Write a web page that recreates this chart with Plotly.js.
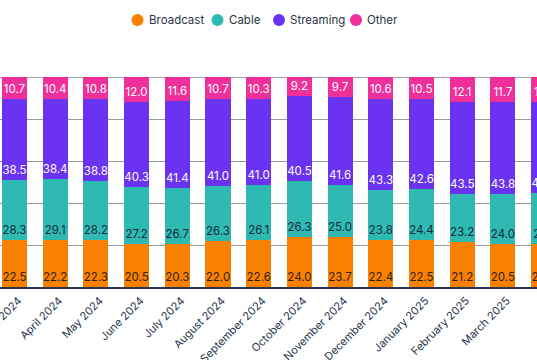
<!DOCTYPE html>
<html>
<head>
<meta charset="utf-8">
<script src="https://cdn.plot.ly/plotly-3.0.1.min.js"></script>
<style>
  html, body { margin: 0; padding: 0; background: #ffffff; overflow: hidden; }
  #chart { width: 537px; height: 360px; }
</style>
</head>
<body>
<div id="chart"></div>
<script>
const months = [
  "March 2024", "April 2024", "May 2024", "June 2024", "July 2024",
  "August 2024", "September 2024", "October 2024", "November 2024",
  "December 2024", "January 2025", "February 2025", "March 2025", "April 2025"
];
const broadcast = [22.5, 22.2, 22.3, 20.5, 20.3, 22.0, 22.6, 24.0, 23.7, 22.4, 22.5, 21.2, 20.5, 20.6];
const cable     = [28.3, 29.1, 28.2, 27.2, 26.7, 26.3, 26.1, 26.3, 25.0, 23.8, 24.4, 23.2, 24.0, 24.1];
const streaming = [38.5, 38.4, 38.8, 40.3, 41.4, 41.0, 41.0, 40.5, 41.6, 43.3, 42.6, 43.5, 43.8, 43.6];
const other     = [10.7, 10.4, 10.8, 12.0, 11.6, 10.7, 10.3, 9.2, 9.7, 10.6, 10.5, 12.1, 11.7, 11.7];

const seriesNames = ["Broadcast", "Cable", "Streaming", "Other"];
const seriesValues = [broadcast, cable, streaming, other];
const seriesColors = ["#FA8000", "#2EBAB3", "#6A33F2", "#F0309A"];
const labelColors = ["#2e2118", "#14283a", "#ffffff", "#ffffff"];

const traces = seriesNames.map((name, i) => ({
  type: "bar",
  name: name,
  x: months,
  y: seriesValues[i],
  marker: { color: seriesColors[i], line: { width: 0 } },
  text: seriesValues[i].map(v => v.toFixed(1)),
  textposition: "inside",
  insidetextanchor: "start",
  constraintext: "none",
  textangle: 0,
  insidetextfont: { family: "Inter, sans-serif", size: 11.5, color: labelColors[i] },
  hoverinfo: "skip"
}));

// Custom legend (circle + label), laid out in pixel space above the plot
const W = 537, plotTop = 77, plotBottom = 287;
const legendCentersPx = [137.5, 217.5, 279, 356];
const legendYpx = 20;
const py = (p) => (plotBottom - p) / (plotBottom - plotTop);
const shapes = [];
const annotations = [];
seriesNames.forEach((name, i) => {
  shapes.push({
    type: "circle", xref: "paper", yref: "paper",
    xsizemode: "pixel", ysizemode: "pixel",
    xanchor: legendCentersPx[i] / W, yanchor: py(legendYpx),
    x0: -6, x1: 6, y0: -6, y1: 6,
    fillcolor: seriesColors[i], line: { width: 0 }
  });
  annotations.push({
    xref: "paper", yref: "paper",
    x: (legendCentersPx[i] + 9) / W, y: py(legendYpx),
    xanchor: "left", yanchor: "middle",
    text: name, showarrow: false,
    font: { family: "Inter, sans-serif", size: 11.5, color: "#2b3445" }
  });
});
shapes.push({
  type: "line", xref: "paper", yref: "y",
  x0: 0, x1: 1, y0: 100, y1: 100,
  line: { color: "#808080", width: 1.5 },
  layer: "below"
});

const layout = {
  width: 537,
  height: 360,
  barmode: "stack",
  bargap: 0.385,
  margin: { l: 0, r: 0, t: 77, b: 73, pad: 0 },
  paper_bgcolor: "#ffffff",
  plot_bgcolor: "#ffffff",
  font: { family: "Inter, sans-serif", color: "#2a3550" },
  showlegend: false,
  xaxis: {
    type: "category",
    range: [-0.356, 12.838],
    tickangle: -45,
    tickfont: { family: "Inter, sans-serif", size: 11, color: "#2a3550" },
    ticklabelshift: 4,
    ticklabelstandoff: 1,
    showgrid: false,
    showline: true,
    linecolor: "#2a3550",
    linewidth: 2,
    ticks: "",
    fixedrange: true
  },
  yaxis: {
    range: [0, 100],
    dtick: 20,
    showticklabels: false,
    showgrid: true,
    gridcolor: "#9a9a9a",
    gridwidth: 1,
    zeroline: false,
    showline: false,
    ticks: "",
    fixedrange: true
  },
  shapes: shapes,
  annotations: annotations
};

Plotly.newPlot("chart", traces, layout, { displayModeBar: false, staticPlot: true });
</script>
</body>
</html>
